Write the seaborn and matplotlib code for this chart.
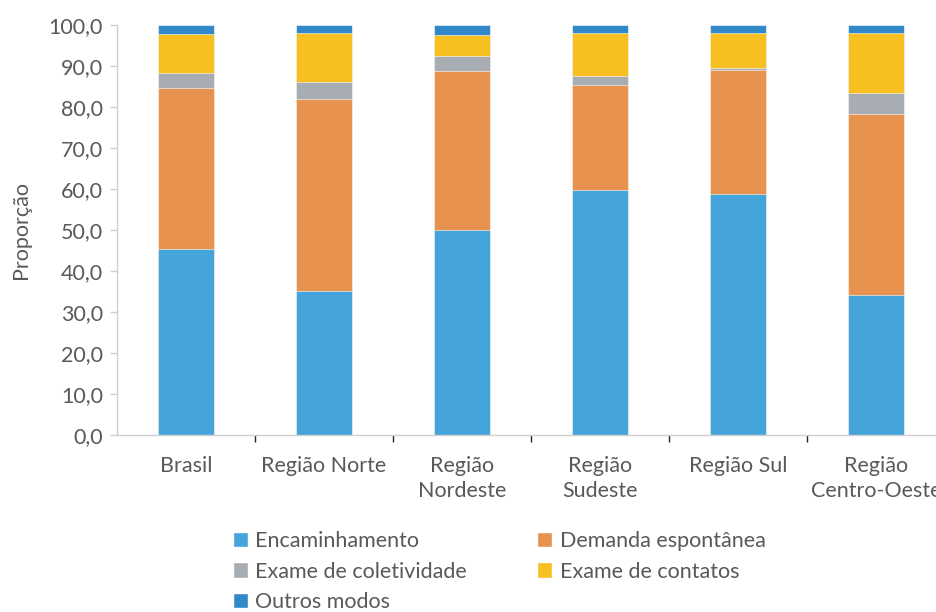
import numpy as np
import pandas as pd
import seaborn as sns
import matplotlib.pyplot as plt
from matplotlib.patches import Patch

# Data (proportions, %)
regioes = ['Brasil', 'Região Norte', 'Região\nNordeste', 'Região\nSudeste', 'Região Sul', 'Região\nCentro-Oeste']
series = ['Encaminhamento', 'Demanda espontânea', 'Exame de coletividade', 'Exame de contatos', 'Outros modos']
encaminhamento = [45.4, 35.1, 50.1, 59.8, 58.8, 34.1]
demanda = [39.3, 46.8, 38.6, 25.6, 30.2, 44.1]
coletividade = [3.7, 4.1, 3.7, 2.1, 0.5, 5.3]
contatos = [9.5, 12.1, 5.2, 10.6, 8.6, 14.6]
outros = [2.1, 1.9, 2.4, 1.9, 1.9, 1.9]
cores = ['#45a5da', '#e8924f', '#a7adb3', '#f7c020', '#3188c8']

df = pd.DataFrame({'regiao': regioes, 'Encaminhamento': encaminhamento,
                   'Demanda espontânea': demanda, 'Exame de coletividade': coletividade,
                   'Exame de contatos': contatos, 'Outros modos': outros})
cum = df[series].cumsum(axis=1)
cum['regiao'] = regioes

sns.set_style('white')
plt.rcParams['font.family'] = ['Lato', 'DejaVu Sans']
fs = 15.5

fig = plt.figure(figsize=(9.36, 6.12), dpi=100)
ax = fig.add_axes([117 / 936, 1 - 435 / 612, 828 / 936, 410 / 612])

# stacked bars: draw cumulative totals from the top layer down
for s, c in reversed(list(zip(series, cores))):
    sns.barplot(data=cum, x='regiao', y=s, color=c, width=0.4, ax=ax,
                edgecolor='#ffffff', linewidth=0.4, saturation=1)

ax.set_ylim(0, 100)
ax.set_xlim(-0.5, 5.5)
ax.set_yticks(np.arange(0, 101, 10))
ax.set_yticklabels([f'{v:.1f}'.replace('.', ',') for v in np.arange(0, 101, 10)])
ax.set_xlabel('')
ax.set_ylabel('Proporção', fontsize=fs, color='#595959', labelpad=13)
ax.tick_params(axis='both', labelsize=fs, labelcolor='#595959', colors='#d0d0d0')
ax.tick_params(axis='y', length=5, width=1, direction='out', left=True, pad=5)
ax.tick_params(axis='x', which='major', length=0, pad=15)
ax.set_xticks(np.arange(0.5, 5.5, 1), minor=True)
ax.tick_params(axis='x', which='minor', length=5, width=1, direction='out', bottom=True)
for sp in ['top', 'right']:
    ax.spines[sp].set_visible(False)
for sp in ['left', 'bottom']:
    ax.spines[sp].set_color('#d0d0d0')
    ax.spines[sp].set_linewidth(1)
for lab in ax.get_xticklabels():
    lab.set_linespacing(1.3)

# legend fills row by row in the reference: reorder for column-major layout
ordem = [0, 2, 4, 1, 3]
handles = [Patch(facecolor=cores[i], label=series[i]) for i in ordem]
leg = fig.legend(handles=handles, loc='upper left', bbox_to_anchor=(222 / 936, 1 - 520 / 612),
                 ncol=2, frameon=False, fontsize=fs, handlelength=0.7, handleheight=0.7,
                 handletextpad=0.35, columnspacing=3.25, labelspacing=0.5, borderpad=0)
for t in leg.get_texts():
    t.set_color('#595959')

fig.savefig('out.png', dpi=100)
